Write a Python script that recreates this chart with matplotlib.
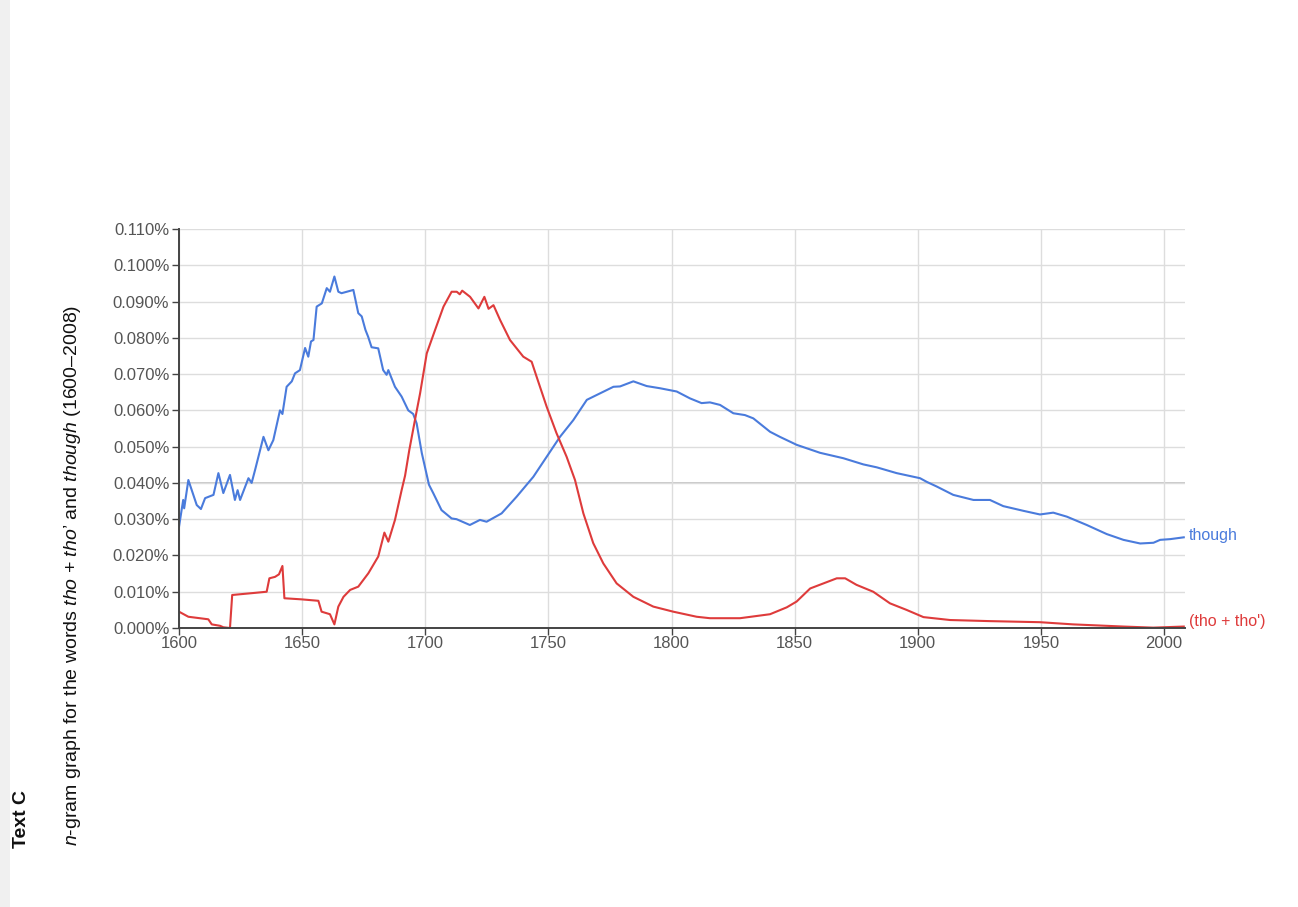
import matplotlib.pyplot as plt
from matplotlib.patches import Rectangle
from matplotlib.ticker import FuncFormatter, MultipleLocator

plt.rcParams['font.family'] = ['Liberation Sans', 'DejaVu Sans']
plt.rcParams['mathtext.fontset'] = 'custom'
plt.rcParams['mathtext.rm'] = 'Liberation Sans'
plt.rcParams['mathtext.it'] = 'Liberation Sans:italic'

# values (percent of all words)
though_years = [1600, 1601.7, 1602.1, 1603.8, 1607.2, 1608.9, 1610.6, 1614, 1616, 1618,
                1620.7, 1622.7, 1623.8, 1624.8, 1628.2, 1629.5, 1630.9, 1634.3, 1636.3,
                1638.3, 1641, 1642, 1643.7, 1645.8, 1647.1, 1649.1, 1651.2, 1652.5, 1653.6,
                1654.6, 1655.9, 1658, 1660, 1661.3, 1663.1, 1664.7, 1666, 1670.8, 1672.8,
                1674.2, 1675.7, 1676.8, 1678.2, 1680.9, 1682.9, 1684.3, 1685, 1687.7,
                1690.4, 1693.1, 1695.1, 1696.5, 1698.6, 1701.5, 1703.3, 1706.6, 1710.7,
                1712.7, 1718.1, 1722.2, 1724.9, 1731, 1737.1, 1743.9, 1749.3, 1754.7,
                1760.1, 1765.6, 1771, 1776.4, 1779.1, 1784.5, 1789.9, 1795.3, 1802.1,
                1807.5, 1812.2, 1815.6, 1819.7, 1825.1, 1829.8, 1833.2, 1840, 1844,
                1850.8, 1860.3, 1869.8, 1877.9, 1883.3, 1891.4, 1900.9, 1903.6, 1907.7,
                1914.4, 1922.6, 1929.3, 1934.7, 1942.9, 1949.6, 1955, 1960.5, 1968.6,
                1976.7, 1983.5, 1990.3, 1995.7, 1998.4, 2002.5, 2008]
though_vals = [0.0279, 0.0353, 0.0330, 0.0408, 0.0339, 0.0328, 0.0358, 0.0367, 0.0427, 0.0372,
               0.0422, 0.0353, 0.0380, 0.0353, 0.0413, 0.0400, 0.0436, 0.0527, 0.0490,
               0.0518, 0.0600, 0.0590, 0.0665, 0.0680, 0.0702, 0.0711, 0.0772, 0.0748, 0.0790,
               0.0794, 0.0886, 0.0895, 0.0937, 0.0927, 0.0969, 0.0927, 0.0923, 0.0932, 0.0868,
               0.0859, 0.0822, 0.0803, 0.0774, 0.0771, 0.0711, 0.0698, 0.0711, 0.0665,
               0.0638, 0.0600, 0.0590, 0.0564, 0.0482, 0.0395, 0.0371, 0.0325, 0.0302,
               0.0300, 0.0284, 0.0298, 0.0293, 0.0316, 0.0362, 0.0417, 0.0472, 0.0527,
               0.0573, 0.0629, 0.0647, 0.0665, 0.0666, 0.0680, 0.0667, 0.0661, 0.0652,
               0.0633, 0.0620, 0.0622, 0.0615, 0.0592, 0.0587, 0.0578, 0.0541, 0.0527,
               0.0505, 0.0483, 0.0468, 0.0451, 0.0443, 0.0427, 0.0413, 0.0403, 0.0390,
               0.0367, 0.0353, 0.0353, 0.0336, 0.0323, 0.0313, 0.0318, 0.0307, 0.0284,
               0.0259, 0.0243, 0.0233, 0.0235, 0.0243, 0.0245, 0.0250]

tho_years = [1600, 1603.8, 1611.9, 1613.3, 1616.7, 1618, 1620.7, 1621.6, 1629.5, 1635.6,
             1636.7, 1639, 1640.6, 1642, 1642.8, 1649.7, 1656.6, 1657.9, 1661.3, 1663.1,
             1664.7, 1666.8, 1669.5, 1672.8, 1676.9, 1680.9, 1683.4, 1685, 1687.7, 1690.4,
             1691.8, 1693.5, 1695.8, 1697.9, 1700.6, 1704, 1707.4, 1710.7, 1712.8, 1714,
             1715, 1718.2, 1721.6, 1724, 1725.7, 1727.7, 1730.4, 1734.4, 1737.1, 1739.8,
             1743.2, 1745.2, 1749.3, 1753.3, 1757.4, 1760.8, 1764.2, 1768.2, 1772.3,
             1777.7, 1784.5, 1792.6, 1800.7, 1810.2, 1815.6, 1827.8, 1840, 1846.8, 1850.8,
             1856.3, 1861.7, 1867.1, 1870.5, 1875.1, 1881.9, 1888.7, 1895.4, 1902.3,
             1913.1, 1929, 1949.6, 1963, 1983.5, 1995.6, 2008]
tho_vals = [0.0045, 0.0031, 0.0024, 0.0010, 0.0006, 0.0002, 0.0000, 0.0091, 0.0096, 0.0100,
            0.0137, 0.0141, 0.0148, 0.0171, 0.0082, 0.0079, 0.0075, 0.0045, 0.0038, 0.0010,
            0.0059, 0.0086, 0.0105, 0.0114, 0.0151, 0.0197, 0.0263, 0.0238, 0.0298, 0.0380,
            0.0420, 0.0490, 0.0573, 0.0647, 0.0757, 0.0822, 0.0886, 0.0927, 0.0927, 0.0920,
            0.0930, 0.0913, 0.0881, 0.0913, 0.0880, 0.0890, 0.0849, 0.0794, 0.0771, 0.0748,
            0.0734, 0.0693, 0.0610, 0.0537, 0.0472, 0.0408, 0.0316, 0.0234, 0.0178,
            0.0123, 0.0086, 0.0059, 0.0045, 0.0031, 0.0027, 0.0027, 0.0038, 0.0057, 0.0073,
            0.0109, 0.0123, 0.0137, 0.0137, 0.0119, 0.0100, 0.0068, 0.0050, 0.0030,
            0.0022, 0.0019, 0.0016, 0.0010, 0.0004, 0.0001, 0.0004]

blue = '#4a7bdc'
red = '#de3b3b'

fig = plt.figure(figsize=(12.98, 9.07), dpi=100)
fig.patches.append(Rectangle((0, 0), 0.008, 1, transform=fig.transFigure,
                             facecolor='#f0f0f0', edgecolor='none'))

ax = fig.add_axes([179 / 1298, 1 - 628 / 907, (1185 - 179) / 1298, (628 - 229) / 907])
ax.plot(though_years, though_vals, color=blue, lw=1.5)
ax.plot(tho_years, tho_vals, color=red, lw=1.5)

ax.set_xlim(1600, 2008.5)
ax.set_ylim(0, 0.110)
ax.xaxis.set_major_locator(MultipleLocator(50))
ax.yaxis.set_major_locator(MultipleLocator(0.010))
ax.yaxis.set_major_formatter(FuncFormatter(lambda v, p: f'{v:.3f}%'))
ax.grid(True, color='#dddddd', lw=1)
ax.axhline(0.040, color='#c8c8c8', lw=1.4, zorder=0.5)
ax.set_axisbelow(True)

for s in ['top', 'right']:
    ax.spines[s].set_visible(False)
for s in ['left', 'bottom']:
    ax.spines[s].set_color('#444444')
    ax.spines[s].set_linewidth(1.4)
ax.tick_params(colors='#444444', labelcolor='#555555', labelsize=12, length=5, width=1)
ax.tick_params(axis='x', pad=1)
ax.tick_params(axis='y', pad=2)

ax.text(2010, though_vals[-1] + 0.0004, 'though', color=blue, fontsize=11.5,
        va='center', ha='left')
ax.text(2010, tho_vals[-1] + 0.0013, "(tho + tho')", color=red, fontsize=11.5,
        va='center', ha='left')

fig.text(22 / 1298, 1 - 848 / 907, 'Text C', rotation=90, fontsize=14, fontweight='bold',
         color='#111111', ha='center', va='bottom')
fig.text(73 / 1298, 1 - 846 / 907,
         r'$\mathit{n}$-gram graph for the words $\mathit{tho}$ + $\mathit{tho}$’ and '
         r'$\mathit{though}$ (1600–2008)',
         rotation=90, fontsize=14, color='#111111', ha='center', va='bottom')

fig.savefig('out.png', dpi=100)
